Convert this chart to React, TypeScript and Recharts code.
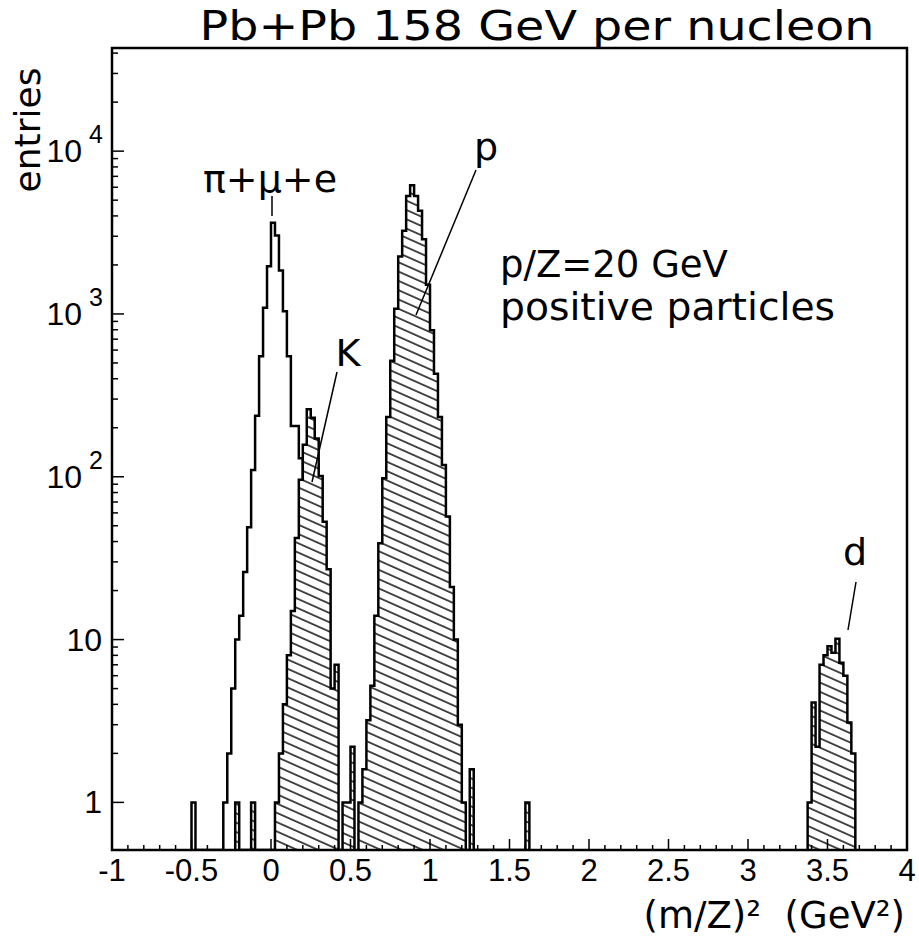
import { ComposedChart, Area, XAxis, YAxis } from "recharts";

// bin width of all histograms, (m/Z)^2 units
const BIN = 0.025;
const FLOOR = 0.51;
const Y_MAX = 43000;

// pi + mu + e (open histogram)
const PION_START = -0.5;
const PION_COUNTS = [
  1, 0, 0, 0, 0, 0, 0, 0,
  1, 2, 5, 10, 14, 26, 49, 110, 237, 550, 1090, 1960, 3630, 3030, 1850, 1040,
  550, 205, 205, 130, 70, 35, 15, 7, 3, 1,
];

// kaons (hatched)
const KAON_START = -0.225;
const KAON_COUNTS = [
  1, 0, 0, 0, 1, 0, 0, 0, 0, 0,
  1, 2, 4, 8, 15, 42, 96, 157, 260, 230, 172, 101, 53, 27, 5, 7, 0, 1, 1, 2.2,
];

// protons (hatched)
const PROTON_START = 0.55;
const PROTON_COUNTS = [
  1, 1.6, 3.2, 5.2, 14, 39, 98, 233, 515, 1075, 2250, 3240, 5300, 6170, 5300,
  4300, 2880, 1510, 795, 430, 233, 118, 57, 21, 10, 3, 1, 0, 1.6,
  0, 0, 0, 0, 0, 0, 0, 0, 0, 0, 0, 0, 0, 1,
];

// deuterons (hatched)
const DEUT_START = 3.375;
const DEUT_COUNTS = [1, 4.1, 2.2, 7, 8, 9.1, 8.3, 10.1, 7.2, 6, 3.1, 2];

const X_LABELS = [-1, -0.5, 0, 0.5, 1, 1.5, 2, 2.5, 3, 3.5, 4];
const Y_DECADES = [1, 10, 100, 1000, 10000];

const W = 919;
const H = 944;
const PLOT_LEFT = 112;
const PLOT_TOP = 48;
const PLOT_RIGHT = 907;
const PLOT_BOTTOM = 850;

function histPoints(start: number, counts: number[]) {
  const pts = [{ x: start, v: FLOOR }];
  counts.forEach((c, i) => pts.push({ x: +(start + i * BIN).toFixed(4), v: c > 0 ? c : FLOOR }));
  pts.push({ x: +(start + counts.length * BIN).toFixed(4), v: FLOOR });
  return pts;
}

const xTicks: number[] = [];
for (let i = -10; i <= 40; i++) xTicks.push(i / 10);
const yTicks: number[] = [];
Y_DECADES.forEach((d) => {
  for (let m = 1; m <= 9; m++) if (d * m <= Y_MAX) yTicks.push(d * m);
});

const FONT = "'Liberation Sans', Arial, sans-serif";
const LABEL_FONT = "'DejaVu Sans', sans-serif";

function XTick(props: any) {
  const { x, payload } = props;
  const v = payload.value;
  const y = PLOT_BOTTOM;
  const major = Math.abs(v * 2 - Math.round(v * 2)) < 1e-6;
  return (
    <g>
      <line x1={x} x2={x} y1={y} y2={y - (major ? 11 : 5)} stroke="#000" strokeWidth={1.5} />
      {major && X_LABELS.includes(+v.toFixed(1)) && (
        <text x={x} y={y + 31} textAnchor="middle" fontSize={31} fontFamily={FONT} fill="#000">
          {+v.toFixed(1)}
        </text>
      )}
    </g>
  );
}

const SUP: Record<number, string> = { 100: "2", 1000: "3", 10000: "4" };

function YTick(props: any) {
  const { y, payload } = props;
  const v = payload.value;
  const x = PLOT_LEFT;
  const major = Y_DECADES.includes(v);
  let label = null;
  if (v === 1 || v === 10) {
    label = (
      <text x={x - 10} y={y + 11} textAnchor="end" fontSize={32} fontFamily={FONT} fill="#000">
        {v}
      </text>
    );
  } else if (SUP[v]) {
    label = (
      <g>
        <text x={x - 30} y={y + 11} textAnchor="end" fontSize={32} fontFamily={FONT} fill="#000">
          10
        </text>
        <text x={x - 9} y={y - 8} textAnchor="end" fontSize={25} fontFamily={FONT} fill="#000">
          {SUP[v]}
        </text>
      </g>
    );
  }
  return (
    <g>
      <line x1={x} x2={x + (major ? 12 : 6)} y1={y} y2={y} stroke="#000" strokeWidth={1.5} />
      {label}
    </g>
  );
}

const series = [
  { key: "pion", data: histPoints(PION_START, PION_COUNTS), fill: "none" },
  { key: "kaon", data: histPoints(KAON_START, KAON_COUNTS), fill: "url(#hatch)" },
  { key: "proton", data: histPoints(PROTON_START, PROTON_COUNTS), fill: "url(#hatch)" },
  { key: "deut", data: histPoints(DEUT_START, DEUT_COUNTS), fill: "url(#hatch)" },
];

export default function App() {
  return (
    <div style={{ position: "absolute", left: 0, top: 0, width: W, height: H, background: "#fff" }}>
      <ComposedChart
        width={W}
        height={H}
        margin={{ top: PLOT_TOP, right: W - PLOT_RIGHT, bottom: H - PLOT_BOTTOM - 40, left: PLOT_LEFT - 60 }}
      >
        <defs>
          <pattern id="hatch" patternUnits="userSpaceOnUse" width={20} height={8.5} patternTransform="rotate(24)">
            <rect width={20} height={8.5} fill="#fff" />
            <line x1={0} x2={20} y1={1} y2={1} stroke="#000" strokeWidth={1.4} />
          </pattern>
        </defs>
        <XAxis
          dataKey="x"
          type="number"
          domain={[-1, 4]}
          ticks={xTicks}
          interval={0}
          allowDataOverflow
          height={40}
          tickSize={0}
          tickMargin={0}
          tickLine={false}
          axisLine={false}
          tick={<XTick />}
        />
        <YAxis
          scale="log"
          type="number"
          domain={[FLOOR, Y_MAX]}
          ticks={yTicks}
          interval={0}
          allowDataOverflow
          width={60}
          tickSize={0}
          tickMargin={0}
          tickLine={false}
          axisLine={false}
          tick={<YTick />}
        />
        {series.map((s) => (
          <Area
            key={s.key}
            data={s.data}
            dataKey="v"
            type="stepAfter"
            baseValue={FLOOR}
            fill={s.fill}
            fillOpacity={1}
            stroke="#000"
            strokeWidth={2.5}
            dot={false}
            activeDot={false}
            isAnimationActive={false}
          />
        ))}
      </ComposedChart>
      <svg width={W} height={H} style={{ position: "absolute", left: 0, top: 0, pointerEvents: "none" }} fontFamily={LABEL_FONT}>
        <rect
          x={PLOT_LEFT}
          y={PLOT_TOP}
          width={PLOT_RIGHT - PLOT_LEFT}
          height={PLOT_BOTTOM - PLOT_TOP}
          fill="none"
          stroke="#000"
          strokeWidth={2.5}
        />
        <text x={537} y={40} textAnchor="middle" fontSize={41} textLength={675} lengthAdjust="spacingAndGlyphs">Pb+Pb 158 GeV per nucleon</text>
        <text x={40} y={130} textAnchor="middle" fontSize={36} transform="rotate(-90 40 130)">entries</text>
        <text x={905} y={928} textAnchor="end" fontSize={37} xmlSpace="preserve">{"(m/Z)²  (GeV²)"}</text>
        <text x={270} y={192} textAnchor="middle" fontSize={38}>π+μ+e</text>
        <line x1={272} y1={196} x2={272} y2={216} stroke="#000" strokeWidth={1.5} />
        <text x={348} y={366} textAnchor="middle" fontSize={38}>K</text>
        <line x1={337} y1={372} x2={312} y2={482} stroke="#000" strokeWidth={1.5} />
        <text x={486} y={160} textAnchor="middle" fontSize={38}>p</text>
        <line x1={476} y1={170} x2={416} y2={315} stroke="#000" strokeWidth={1.5} />
        <text x={500} y={277} fontSize={37}>p/Z=20 GeV</text>
        <text x={500} y={320} fontSize={37} textLength={335} lengthAdjust="spacingAndGlyphs">positive particles</text>
        <text x={855} y={565} textAnchor="middle" fontSize={38}>d</text>
        <line x1={856} y1={582} x2={848} y2={630} stroke="#000" strokeWidth={1.5} />
      </svg>
    </div>
  );
}
